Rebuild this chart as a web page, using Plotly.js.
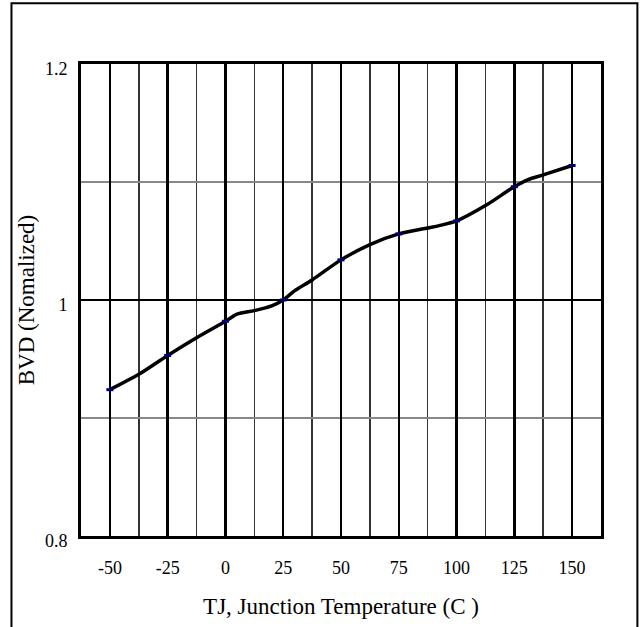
<!DOCTYPE html>
<html>
<head>
<meta charset="utf-8">
<script src="https://cdn.plot.ly/plotly-3.0.1.min.js"></script>
<style>
  html, body { margin: 0; padding: 0; background: #fff; }
  #chart { width: 641px; height: 627px; }
</style>
</head>
<body>
<div id="chart"></div>
<script>
// Junction temperature (C) along the curve
const temps = [-50, -37.5, -25, -12.5, 0, 5, 12.5, 20, 25, 30, 37.5, 50, 62.5, 75, 87.5, 92.5, 100, 112.5, 125, 131, 137.5, 150];
// Normalized breakdown voltage
const bvd = [0.924, 0.937, 0.953, 0.968, 0.982, 0.988, 0.991, 0.995, 1.000, 1.008, 1.017, 1.034, 1.047, 1.056, 1.061, 1.063, 1.067, 1.080, 1.096, 1.102, 1.106, 1.114];
// Tick labels
const xTickVals = [-50, -25, 0, 25, 50, 75, 100, 125, 150];
const xTickText = ['-50', '-25', '0', '25', '50', '75', '100', '125', '150'];
const yTickVals = [0.8, 1.0, 1.2];
const yTickText = ['0.8', '1', '1.2'];

const markT = [], markV = [];
temps.forEach((t, i) => { if (t % 25 === 0) { markT.push(t); markV.push(bvd[i]); } });

const serif = '"Liberation Serif", "DejaVu Serif", serif';

const traces = [
  {
    x: temps, y: bvd, mode: 'lines', type: 'scatter',
    line: { color: '#000', width: 3.5, shape: 'spline', smoothing: 0.8 },
    hoverinfo: 'skip', showlegend: false
  },
  {
    x: markT, y: markV, mode: 'markers', type: 'scatter',
    marker: { symbol: 'line-ew-open', size: 5, color: '#00007a', line: { color: '#00007a', width: 3 } },
    showlegend: false
  }
];

const layout = {
  width: 641, height: 627,
  margin: { l: 81, r: 40, t: 64, b: 91 },
  paper_bgcolor: '#fff', plot_bgcolor: '#fff',
  font: { family: serif, color: '#000', size: 18 },
  showlegend: false,
  xaxis: {
    range: [-62.5, 162.5],
    tickvals: xTickVals, ticktext: xTickText,
    ticks: '', ticklabelstandoff: 13,
    showgrid: true, gridcolor: '#000', gridwidth: 2.5,
    minor: { tickvals: [-37.5, -12.5, 12.5, 37.5, 62.5, 87.5, 112.5, 137.5], showgrid: true, gridcolor: '#333', gridwidth: 1.5 },
    showline: true, linecolor: '#000', linewidth: 3, mirror: true,
    zeroline: false,
    tickfont: { family: serif, size: 18, color: '#000' },
    title: { text: 'TJ, Junction Temperature (C )', font: { family: serif, size: 23, color: '#000' }, standoff: 22 }
  },
  yaxis: {
    range: [0.8, 1.2],
    tickvals: yTickVals, ticktext: yTickText,
    ticks: '', ticklabelstandoff: 7, ticklabelshift: 5,
    showgrid: true, gridcolor: '#000', gridwidth: 2.5,
    minor: { tickvals: [0.9, 1.1], showgrid: true, gridcolor: '#888', gridwidth: 1.2 },
    showline: true, linecolor: '#000', linewidth: 3, mirror: true,
    zeroline: false,
    tickfont: { family: serif, size: 18, color: '#000' },
    title: { text: 'BVD (Nomalized)', font: { family: serif, size: 23, color: '#000' }, standoff: 4 }
  },
  shapes: [
    { type: 'rect', xref: 'paper', yref: 'paper', x0: -0.1337, x1: 1.070, y0: -0.3, y1: 1.1286,
      line: { color: '#000', width: 2 }, fillcolor: 'rgba(0,0,0,0)', layer: 'below' }
  ]
};

Plotly.newPlot('chart', traces, layout, { staticPlot: true, displayModeBar: false });
</script>
</body>
</html>
